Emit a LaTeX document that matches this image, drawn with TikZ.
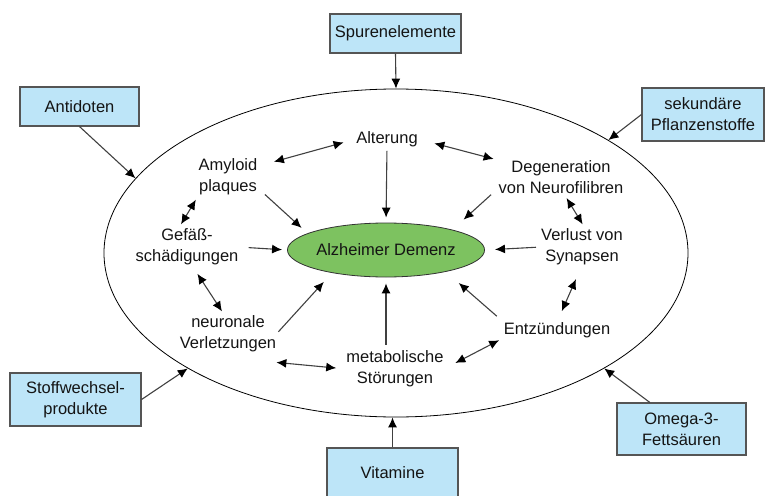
\documentclass[tikz,border=0pt]{standalone}
\usepackage{fontspec}
\setmainfont{Liberation Sans}
\usetikzlibrary{arrows.meta,shapes.geometric}

\definecolor{box area}{RGB}{189,229,248}
\definecolor{box edge}{RGB}{85,85,85}
\definecolor{core area}{RGB}{125,194,96}
\colorlet{arrow line}{black!75}
\tikzset{
  every node/.style={font=\fontsize{16.5}{21}\selectfont, text=black!92},
  term/.style={align=center, inner sep=0pt},
  factor/.style={draw=box edge, fill=box area, line width=1.1pt, align=center, inner sep=0pt}
  }
\tikzstyle{cause} = [draw, line width=1.1pt, arrow line, -{Latex[length=10pt,width=9pt,black]}]
\tikzstyle{link} = [draw, line width=1.1pt, arrow line, {Latex[length=10pt,width=9pt,black]}-{Latex[length=10pt,width=9pt,black]}]
\def\terms{{(387,139)/alt/Alterung}, {(228,177)/amy/{Amyloid\\plaques}}, {(561,177)/deg/{Degeneration\\von Neurofilibren}}, {(187,247)/gef/{Gefäß-\\schädigungen}}, {(582,247)/ver/{Verlust von\\Synapsen}}, {(228,334)/neu/{neuronale\\Verletzungen}}, {(395,369)/met/{metabolische\\Störungen}}, {(557,330)/ent/Entzündungen}}
\def\factors{{(395.5,33.5)/spur/131/39/Spurenelemente}, {(79.5,106.5)/anti/119/39/Antidoten}, {(703,114.5)/sek/122/53/{sekundäre\\Pflanzenstoffe}}, {(75.5,399.5)/stoff/131/53/{Stoffwechsel-\\produkte}}, {(681.5,429)/omega/129/52/{Omega-3-\\Fettsäuren}}, {(392.5,473)/vit/131/50/Vitamine}}

\begin{document}
\begin{tikzpicture}[x=1pt, y=-1pt]
    \useasboundingbox (0,0) rectangle (765,495);

    % The outer ring and the disease
    \node[ellipse, draw=black, line width=0.8pt, minimum width=584, minimum height=328, inner sep=0pt] (ring) at (396,253) {};
    \node[ellipse, draw=black!80, line width=0.8pt, fill=core area, minimum width=176, minimum height=54, inner sep=0pt] (ad) at (386,250) {Alzheimer Demenz};

    % the risk terms inside
    \foreach \pos/\name/\txt in \terms
      \node[term] (\name) at \pos {\txt};

    % the protective factors outside
    \foreach \pos/\name/\boxw/\boxh/\txt in \factors
      \node[factor, minimum width=\boxw, minimum height=\boxh] (\name) at \pos {\txt};

    % Factors acting on the ring
    \foreach \source/\sink in {spur.south/ring.90, anti.south/ring.164, sek.west/ring.28, stoff.east/ring.209, omega.140/ring.331, vit.north/vit.north |- ring.south}
      \path[cause] (\source) -- (\sink);

    % The terms leading to the disease
    \foreach \source/\sink/\a/\b in {alt.south/ad.north/4/5, amy.-20/ad.168/10/8, deg.190/ad.17/10/15, gef.east/ad.west/10/5, ver.west/ad.east/5/10, neu.east/ad.203/3/12, met.north -| ad.south/ad.south/6/6, ent.north west/ad.-20/9/17}
      \path[cause, shorten <=\a pt, shorten >=\b pt] (\source) -- (\sink);

    % The links between the terms
    \foreach \source/\sink/\a/\b in {alt.west/amy.20/13/17, alt.east/deg.north west/17/5, amy.south west/gef.115/5/5, gef.-75/neu.100/10/5, deg.-80/ver.80/5/5, ver.south/ent.north/15/12, met.east/ent.south west/13/5}
      \path[link, shorten <=\a pt, shorten >=\b pt] (\source) -- (\sink);
    \path[link, shorten >=10pt] ([yshift=-10pt]neu.south east) -- (met.west);
\end{tikzpicture}
\end{document}
